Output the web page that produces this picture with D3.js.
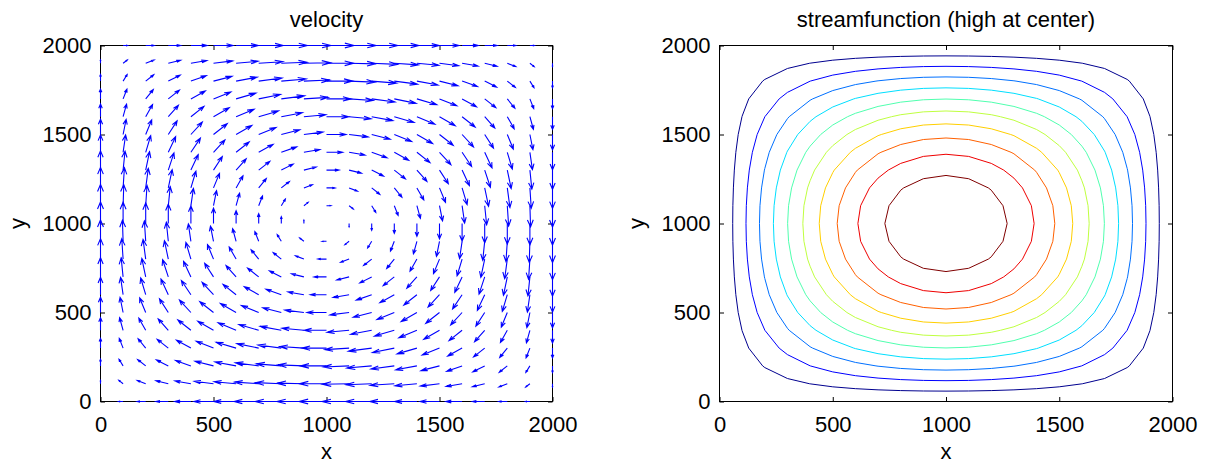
<!DOCTYPE html>
<html>
<head>
<meta charset="utf-8">
<script src="https://cdn.jsdelivr.net/npm/d3@7"></script>
<style>
    body { margin: 0; background: #fff; }
    text { font-family: "Liberation Sans", Arial, sans-serif; font-size: 22px; fill: #000; }
</style>
</head>
<body>
<div id="chart"></div>
<script>
// grid points along x and along y
const gridPos = [0, 100, 200, 300, 400, 500, 600, 700, 800, 900, 1000,
    1100, 1200, 1300, 1400, 1500, 1600, 1700, 1800, 1900, 2000];
// streamfunction shape along the center lines (1 = peak)
const psiProfile = [0, 0.156, 0.309, 0.454, 0.588, 0.707, 0.809, 0.891, 0.951, 0.988, 1.0,
    0.988, 0.951, 0.891, 0.809, 0.707, 0.588, 0.454, 0.309, 0.156, 0];
const contourLevels = [0.091, 0.182, 0.273, 0.364, 0.455, 0.545, 0.636, 0.727, 0.818, 0.909];
const tickValues = [0, 500, 1000, 1500, 2000];
const titles = ['velocity', 'streamfunction (high at center)'];
const xLabel = 'x';
const yLabel = 'y';

const n = gridPos.length;
const dx = gridPos[1] - gridPos[0];

// psi[j][i] : row j = y, column i = x
const psi = psiProfile.map(py => psiProfile.map(px => px * py));

// gradient like matlab (one sided at the edges)
function diffAt(get, k) {
    if (k == 0) return (get(1) - get(0)) / dx;
    if (k == n - 1) return (get(n - 1) - get(n - 2)) / dx;
    return (get(k + 1) - get(k - 1)) / (2 * dx);
}

let arrows = [];
for (let j = 0; j < n; j++) {
    for (let i = 0; i < n; i++) {
        const dpdx = diffAt(k => psi[j][k], i);
        const dpdy = diffAt(k => psi[k][i], j);
        arrows.push({ x: gridPos[i], y: gridPos[j], u: -dpdy, v: dpdx });
    }
}

// quiver autoscale
const del = Math.sqrt(2) * (gridPos[n - 1] - gridPos[0]) / n;
const maxLen = d3.max(arrows, a => Math.hypot(a.u, a.v)) / del;
const sc = 0.9 / maxLen;
arrows.forEach(a => { a.u *= sc; a.v *= sc; });

function jet(t) {
    const stops = [[0, 0, 0, 0.5], [1 / 8, 0, 0, 1], [3 / 8, 0, 1, 1], [5 / 8, 1, 1, 0], [7 / 8, 1, 0, 0], [1, 0.5, 0, 0]];
    let k = 0;
    while (k < stops.length - 2 && t > stops[k + 1][0]) k++;
    const a = stops[k], b = stops[k + 1];
    const f = (t - a[0]) / (b[0] - a[0]);
    const c = [1, 2, 3].map(q => Math.round(255 * (a[q] + f * (b[q] - a[q]))));
    return `rgb(${c[0]},${c[1]},${c[2]})`;
}
const levelColor = (d, k) => {
    const idx = Math.min(63, Math.floor(k * 64 / (contourLevels.length - 1)));
    return jet((idx + 1) / 64);
};

const width = 1206, height = 464;
const svg = d3.select('#chart').append('svg')
    .attr('width', width)
    .attr('height', height);

const axTop = 45.5, axBottom = 401.5;
const panels = [{ left: 100.5, right: 552.5 }, { left: 719.5, right: 1172.5 }];
const tick = 4.5;

function frame(p, title) {
    const x = d3.scaleLinear().domain([0, 2000]).range([p.left, p.right]);
    const y = d3.scaleLinear().domain([0, 2000]).range([axBottom, axTop]);
    const g = svg.append('g');

    g.append('rect')
        .attr('x', p.left).attr('y', axTop)
        .attr('width', p.right - p.left).attr('height', axBottom - axTop)
        .attr('fill', 'none').attr('stroke', '#000').attr('stroke-width', 1);

    const fmt = d3.format('d');
    const ax = [
        g.append('g').attr('transform', `translate(0,${axBottom})`)
            .call(d3.axisBottom(x).tickValues(tickValues).tickFormat(fmt).tickSize(-tick).tickPadding(15)),
        g.append('g').attr('transform', `translate(0,${axTop})`)
            .call(d3.axisTop(x).tickValues(tickValues).tickFormat('').tickSize(-tick)),
        g.append('g').attr('transform', `translate(${p.left},0)`)
            .call(d3.axisLeft(y).tickValues(tickValues).tickFormat(fmt).tickSize(-tick).tickPadding(9)),
        g.append('g').attr('transform', `translate(${p.right},0)`)
            .call(d3.axisRight(y).tickValues(tickValues).tickFormat('').tickSize(-tick))
    ];
    ax.forEach(a => {
        a.select('.domain').remove();
        a.attr('font-size', null).attr('font-family', null);
        a.selectAll('line').attr('stroke', '#000');
    });

    g.append('text')
        .attr('x', (p.left + p.right) / 2).attr('y', 27)
        .attr('text-anchor', 'middle')
        .text(title);
    g.append('text')
        .attr('x', (p.left + p.right) / 2).attr('y', 459)
        .attr('text-anchor', 'middle')
        .text(xLabel);
    g.append('text')
        .attr('transform', `translate(${p.left - 76},${(axTop + axBottom) / 2}) rotate(-90)`)
        .attr('text-anchor', 'middle')
        .text(yLabel);

    return { x, y, g };
}

// left: velocity quiver
const L = frame(panels[0], titles[0]);
const ah = 0.33, bh = 0.33;
L.g.append('g')
    .selectAll('path')
    .data(arrows)
    .enter().append('path')
    .attr('fill', 'none')
    .attr('stroke', 'blue')
    .attr('stroke-width', 1.1)
    .attr('d', a => {
        const tx = a.x + a.u, ty = a.y + a.v;
        const h1x = tx - ah * (a.u + bh * a.v), h1y = ty - ah * (a.v - bh * a.u);
        const h2x = tx - ah * (a.u - bh * a.v), h2y = ty - ah * (a.v + bh * a.u);
        const X = L.x, Y = L.y;
        return `M${X(a.x)},${Y(a.y)}L${X(tx)},${Y(ty)}` +
            `M${X(h1x)},${Y(h1y)}L${X(tx)},${Y(ty)}L${X(h2x)},${Y(h2y)}`;
    });

// right: streamfunction contours
const R = frame(panels[1], titles[1]);
const flat = [];
for (let j = 0; j < n; j++) for (let i = 0; i < n; i++) flat.push(psi[j][i]);

const contours = d3.contours().size([n, n]).thresholds(contourLevels)(flat);
const gridToData = d3.scaleLinear().domain([0.5, n - 0.5]).range([gridPos[0], gridPos[n - 1]]);
const line = d3.line()
    .x(pt => R.x(gridToData(pt[0])))
    .y(pt => R.y(gridToData(pt[1])))
    .curve(d3.curveLinearClosed);

R.g.append('g')
    .selectAll('path')
    .data(contours)
    .enter().append('path')
    .attr('fill', 'none')
    .attr('stroke', levelColor)
    .attr('stroke-width', 1)
    .attr('d', c => c.coordinates.map(poly => poly.map(ring => line(ring.slice(0, -1))).join('')).join(''));
</script>
</body>
</html>
